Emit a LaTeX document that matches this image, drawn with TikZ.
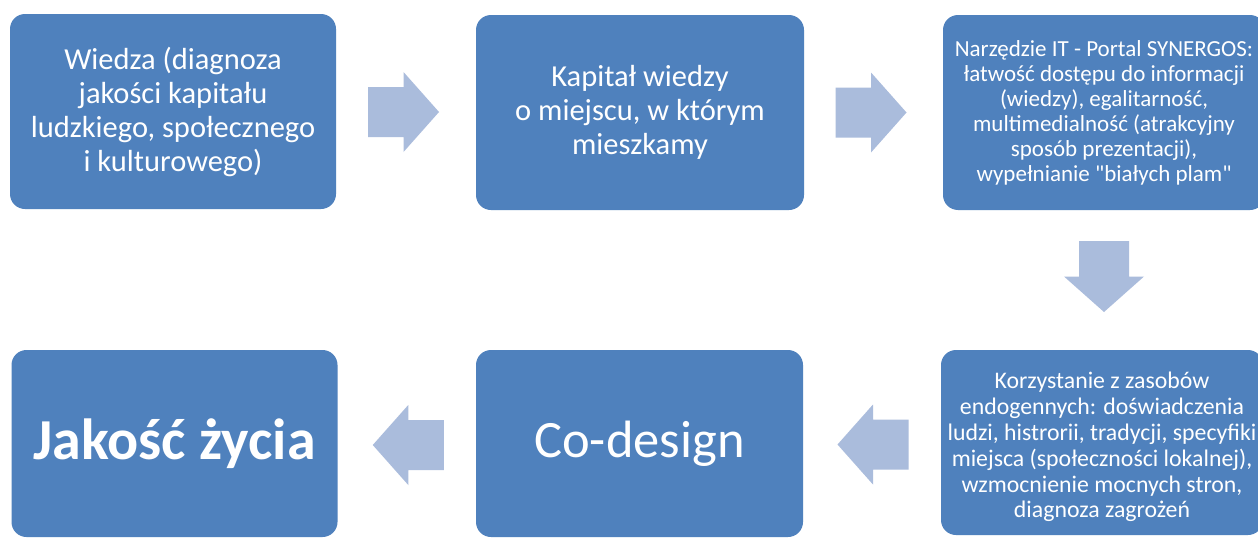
\documentclass[tikz,border=0pt]{standalone}
\usepackage{fontspec}
\setmainfont{Carlito}[Ligatures=TeXOff]
\usetikzlibrary{calc}
\definecolor{boxblue}{HTML}{4F81BD}
\definecolor{arrowblue}{HTML}{AABCDC}
\tikzset{
  box/.style={draw=none, fill=boxblue, rounded corners=15pt, text=white, align=center, inner sep=0pt},
  bigtext/.style={font=\fontsize{30.5}{34}\selectfont},
  midtext/.style={font=\fontsize{23}{25}\selectfont},
  smalltext/.style={font=\fontsize{23.8}{25.8}\selectfont},
  pics/blockarrow/.style={code={
    \fill[arrowblue] (-35.5,-25) -- (0,-25) -- (0,-40) -- (35.5,0) -- (0,40) -- (0,25) -- (-35.5,25) -- cycle;
  }}
}
\begin{document}
\begin{tikzpicture}[x=1pt,y=-1pt]
\useasboundingbox (0,0) rectangle (1258,538);
\clip (0,0) rectangle (1258,538);
\fill[white] (0,0) rectangle (1258,538);
% top row
\node[box, bigtext, minimum width=326pt, minimum height=195pt] (b1) at (173,111.5)
  {Wiedza (diagnoza\\jakości kapitału\\ludzkiego, społecznego\\i kulturowego)};
\node[box, bigtext, minimum width=328pt, minimum height=195pt] (b2) at (640,112.5)
  {Kapitał wiedzy\\o miejscu, w którym\\mieszkamy};
\node[box, midtext, minimum width=322pt, minimum height=195pt] (b3) at (1104,112.5)
  {Narzędzie IT - Portal SYNERGOS:\\łatwość dostępu do informacji\\(wiedzy), egalitarność,\\multimedialność (atrakcyjny\\sposób prezentacji),\\wypełnianie "białych plam"};
% bottom row
\node[box, minimum width=326pt, minimum height=187pt, font=\fontsize{58}{66}\selectfont\bfseries] (b4) at (174.5,443.5)
  {Jakość życia};
\node[box, minimum width=327pt, minimum height=187pt, font=\fontsize{52.5}{60}\selectfont] (b5) at (639.5,443.5)
  {Co-design};
\node[box, smalltext, minimum width=322pt, minimum height=185pt] (b6) at (1102,442.5)
  {\rule{0pt}{26pt}Korzystanie z zasobów\\endogennych: doświadczenia\\ludzi, histrorii, tradycji, specyfiki\\miejsca (społeczności lokalnej),\\wzmocnienie mocnych stron,\\diagnoza zagrożeń};
% block arrows
\path ($(b1.east)!0.5!(b2.west)+(-2.5,0)$) pic {blockarrow};
\path ($(b2.east)!0.5!(b3.west)+(-2.5,0)$) pic {blockarrow};
\path ($(b3.south)!0.5!(b6.north)+(1,-3.5)$) pic[rotate=-90] {blockarrow};
\path ($(b6.west)!0.5!(b5.east)+(1,1.5)$) pic[rotate=180] {blockarrow};
\path ($(b5.west)!0.5!(b4.east)+(1.5,1.5)$) pic[rotate=180] {blockarrow};
\end{tikzpicture}
\end{document}
